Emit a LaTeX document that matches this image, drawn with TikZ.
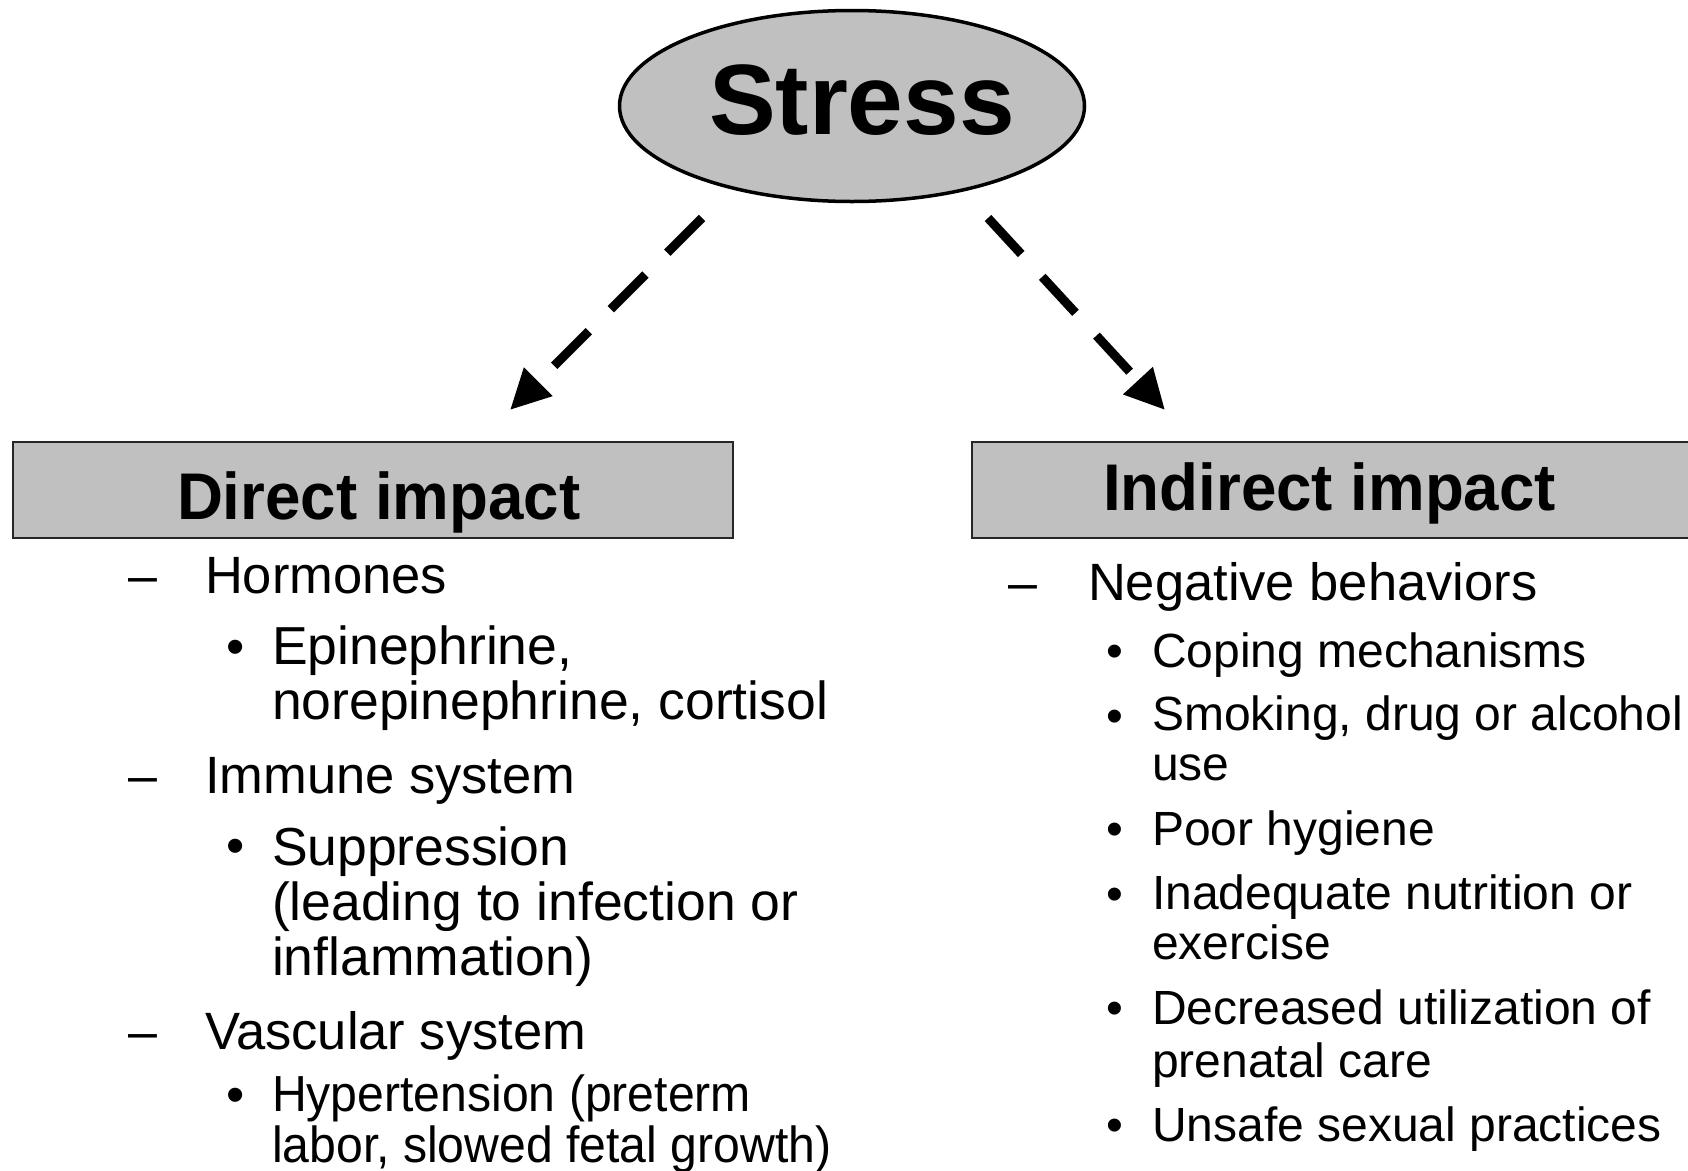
\documentclass[tikz,border=0pt]{standalone}
\usepackage{fontspec}
\setmainfont{Liberation Sans}
\newfontfamily\condfont{Liberation Sans}[FakeStretch=0.95]
\newfontfamily\headfont{Liberation Sans}[FakeStretch=0.965]
\usetikzlibrary{shapes.geometric,arrows.meta}
\definecolor{boxgray}{HTML}{C0C0C0}
\begin{document}
\begin{tikzpicture}[x=1pt,y=-1pt,
  every node/.style={inner sep=0pt, outer sep=0pt},
  hbox/.style={draw=black!85, line width=2pt, fill=boxgray},
  impact/.style={anchor=base west, font=\headfont\bfseries\fontsize{66}{70}\selectfont},
  arr/.style={line width=9pt, dash pattern=on 49pt off 31pt, -{Triangle[length=40pt,width=38pt]}},
  mkl/.style={anchor=base west, font=\fontsize{52}{55}\selectfont},
  mkr/.style={anchor=base west, font=\fontsize{48}{50}\selectfont},
  lvla/.style={anchor=base west, font=\fontsize{52.5}{55}\selectfont},
  lvlbl/.style={anchor=base west, align=left, font=\fontsize{53.5}{55}\selectfont},
  lvlbr/.style={anchor=base west, align=left, font=\fontsize{48}{50}\selectfont}
]
\clip (0,0) rectangle (1688,1170);
\fill[white] (0,0) rectangle (1688,1170);

% Stress ellipse
\node[ellipse, draw, line width=3.5pt, fill=boxgray, minimum width=465pt, minimum height=191pt] (stress) at (852,106) {};
\node[anchor=base west, font=\bfseries\fontsize{100}{104}\selectfont] (stresslabel) at (709,134) {Stress};

% arrows
\coordinate (ls) at (702,218);
\coordinate (le) at (510,410);
\coordinate (rs) at (988,218);
\coordinate (re) at (1165,410);
\draw[arr] (ls) -- (le);
\draw[arr] (rs) -- (re);

% heading boxes
\node[hbox, minimum width=720pt, minimum height=96pt] (directbox) at (373,490) {};
\node[hbox, minimum width=730pt, minimum height=96pt] (indirectbox) at (1337,490) {};
\node[impact] (directlabel) at (177,519) {Direct impact};
\node[impact] (indirectlabel) at (1103,510) {Indirect impact};

% left column (multi-line nodes are anchored at the baseline of their last line)
\node[mkl] (dl1) at (128,593) {–};
\node[lvla] (hormones) at (205,593) {Hormones};
\node[mkl] (bl1) at (226,664) {•};
\node[lvlbl] (epi) at (272,719) {Epinephrine,\\norepinephrine, cortisol};
\node[mkl] (dl2) at (128,793) {–};
\node[lvla] (immune) at (205,793) {Immune system};
\node[mkl] (bl2) at (226,863) {•};
\node[lvlbl] (supp) at (272,975) {Suppression\\(leading to infection or\\inflammation)};
\node[mkl] (dl3) at (128,1049) {–};
\node[lvla] (vasc) at (205,1049) {Vascular system};
\node[mkl] (bl3) at (226,1112) {•};
\node[lvlbl, font=\condfont\fontsize{50.7}{51}\selectfont] (hyper) at (272,1162) {Hypertension (preterm\\labor, slowed fetal growth)};

% right column
\node[mkl] (dr1) at (1008,600) {–};
\node[lvla] (neg) at (1088,600) {Negative behaviors};
\node[mkr] (br1) at (1106,667) {•};
\node[lvlbr] (coping) at (1152,667) {Coping mechanisms};
\node[mkr] (br2) at (1106,732) {•};
\node[lvlbr] (smoking) at (1152,780) {Smoking, drug or alcohol\\use};
\node[mkr] (br3) at (1106,845) {•};
\node[lvlbr] (poor) at (1152,845) {Poor hygiene};
\node[mkr] (br4) at (1106,910) {•};
\node[lvlbr] (inad) at (1152,959) {Inadequate nutrition or\\exercise};
\node[mkr] (br5) at (1106,1024) {•};
\node[lvlbr, font=\fontsize{48}{53}\selectfont] (decr) at (1152,1077) {Decreased utilization of\\prenatal care};
\node[mkr] (br6) at (1106,1141) {•};
\node[lvlbr] (unsafe) at (1152,1141) {Unsafe sexual practices};
\end{tikzpicture}
\end{document}
